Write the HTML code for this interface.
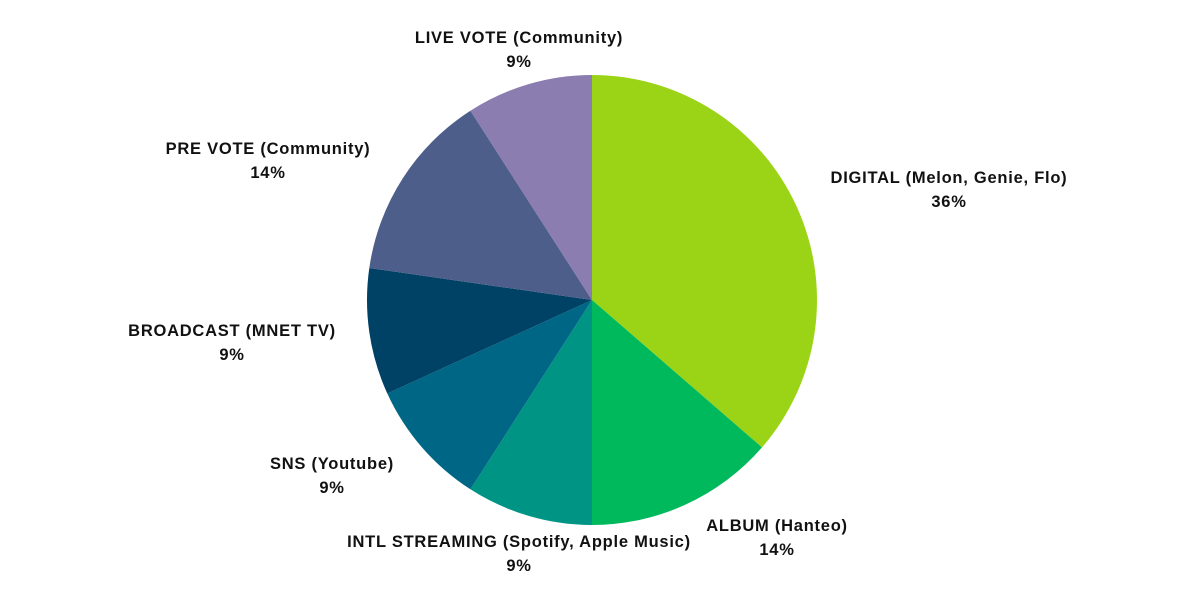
<!DOCTYPE html>
<html><head><meta charset="utf-8"><style>
html,body{margin:0;padding:0;background:#fff;}
svg text{font-family:"Liberation Sans",Arial,sans-serif;font-weight:bold;font-size:16.5px;letter-spacing:0.75px;fill:#111;text-anchor:middle;}
</style></head><body>
<svg width="1200" height="600" viewBox="0 0 1200 600" xmlns="http://www.w3.org/2000/svg">
<path d="M592,300 L592,75 A225,225 0 0 1 762.0,447.4 Z" fill="#9bd417"/>
<path d="M592,300 L762.0,447.4 A225,225 0 0 1 592,525 Z" fill="#00b95c"/>
<path d="M592,300 L592,525 A225,225 0 0 1 470.4,489.3 Z" fill="#009485"/>
<path d="M592,300 L470.4,489.3 A225,225 0 0 1 387.3,393.5 Z" fill="#006685"/>
<path d="M592,300 L387.3,393.5 A225,225 0 0 1 369.3,268.0 Z" fill="#004266"/>
<path d="M592,300 L369.3,268.0 A225,225 0 0 1 470.4,110.7 Z" fill="#4d5e8a"/>
<path d="M592,300 L470.4,110.7 A225,225 0 0 1 592,75 Z" fill="#8b7db0"/>
<text x="519" y="43">LIVE VOTE (Community)</text><text x="519" y="67">9%</text>
<text x="268" y="154">PRE VOTE (Community)</text><text x="268" y="178">14%</text>
<text x="949" y="183">DIGITAL (Melon, Genie, Flo)</text><text x="949" y="207">36%</text>
<text x="232" y="336">BROADCAST (MNET TV)</text><text x="232" y="360">9%</text>
<text x="332" y="469">SNS (Youtube)</text><text x="332" y="493">9%</text>
<text x="519" y="547">INTL STREAMING (Spotify, Apple Music)</text><text x="519" y="571">9%</text>
<text x="777" y="531">ALBUM (Hanteo)</text><text x="777" y="555">14%</text>
</svg>
</body></html>
